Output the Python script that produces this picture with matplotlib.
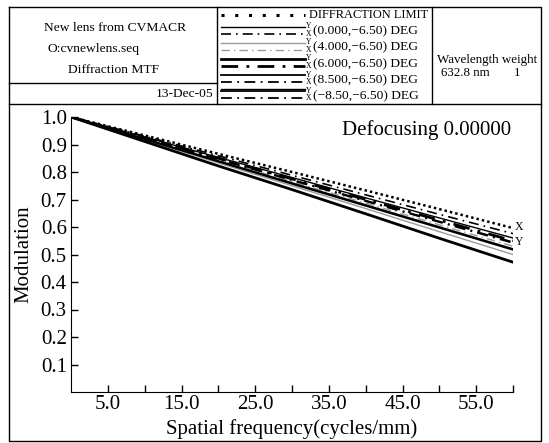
import numpy as np
import matplotlib
matplotlib.use("Agg")
import matplotlib.pyplot as plt

plt.rcParams['font.family'] = ['Liberation Serif', 'DejaVu Serif']

# spatial frequency samples (cycles/mm)
freq = [0, 10, 20, 30, 40, 50, 60]

# modulation
diffraction = [1.0, 0.933, 0.866, 0.800, 0.733, 0.665, 0.596]
f0_x = [1.0, 0.930, 0.859, 0.788, 0.717, 0.646, 0.576]
f0_y = [1.0, 0.927, 0.853, 0.780, 0.706, 0.633, 0.560]
f4_x = [1.0, 0.922, 0.844, 0.765, 0.687, 0.608, 0.530]
f4_y = [1.0, 0.917, 0.833, 0.750, 0.667, 0.583, 0.500]
f6_x = [1.0, 0.925, 0.850, 0.775, 0.700, 0.625, 0.550]
f6_y = [1.0, 0.911, 0.822, 0.736, 0.648, 0.559, 0.472]
f85_x = [1.0, 0.924, 0.848, 0.772, 0.696, 0.620, 0.545]
f85_y = [1.0, 0.920, 0.840, 0.760, 0.680, 0.600, 0.520]
fm85_x = [1.0, 0.923, 0.846, 0.770, 0.694, 0.618, 0.542]
fm85_y = [1.0, 0.919, 0.838, 0.757, 0.677, 0.597, 0.517]

field_labels = ["(0.000,\u22126.50) DEG", "(4.000,\u22126.50) DEG", "(6.000,\u22126.50) DEG",
                "(8.500,\u22126.50) DEG", "(\u22128.50,\u22126.50) DEG"]
x_ticks = [5, 10, 15, 20, 25, 30, 35, 40, 45, 50, 55, 60]
y_ticks = [0.1, 0.2, 0.3, 0.4, 0.5, 0.6, 0.7, 0.8, 0.9, 1.0]

W, H = 549, 443
fig = plt.figure(figsize=(W / 100, H / 100), dpi=100)

# frame / header drawn in pixel coordinates
bg = fig.add_axes([0, 0, 1, 1])
bg.set_xlim(0, W)
bg.set_ylim(H, 0)
bg.axis("off")

L, R, T, B = 9, 541, 7, 441
HB = 104           # bottom of header
C1, C2 = 217, 432  # column dividers
K = dict(color="black", lw=1.0)
bg.plot([L, R, R, L, L], [T, T, B, B, T], **K)
bg.plot([L, R], [HB, HB], **K)
bg.plot([C1, C1], [T, HB], **K)
bg.plot([C2, C2], [T, HB], **K)
bg.plot([L, C1], [83, 83], **K)

hs = 9.7
bg.text(115, 28, "New lens from CVMACR", fontsize=hs, ha="center", va="center")
bg.text(47, 49, "O:cvnewlens.seq", fontsize=hs, ha="left", va="center")
bg.text(114, 70, "Diffraction MTF", fontsize=hs, ha="center", va="center")
bg.text(213, 94, "13-Dec-05", fontsize=hs, ha="right", va="center")
bg.text(487, 60, "Wavelength weight", fontsize=9.4, ha="center", va="center")
bg.text(441, 73, "632.8 nm", fontsize=9.4, ha="left", va="center")
bg.text(514, 73, "1", fontsize=9.4, ha="left", va="center")

# styles for each field: (Y style, X style)
dd = (0, (6, 3, 1, 3))
styles = [
    (dict(color="black", lw=1.0, ls="-"), dict(color="black", lw=1.2, ls=dd)),
    (dict(color="#9a9a9a", lw=1.0, ls="-"), dict(color="#9a9a9a", lw=1.0, ls=dd)),
    (dict(color="black", lw=2.0, ls="-"), dict(color="black", lw=2.0, ls=dd)),
    (dict(color="black", lw=1.3, ls="-"), dict(color="black", lw=1.3, ls=dd)),
    (dict(color="black", lw=1.3, ls="-"), dict(color="black", lw=1.3, ls=dd)),
]
dot_key = dict(color="black", lw=2.2, ls=(0, (1, 3.5)))
dot_curve = dict(color="black", lw=1.8, ls=(0, (1, 1.2)))

x0, x1, xt = 221, 305, 313
bg.plot([x0, x1], [15, 15], **dot_key)
bg.text(xt - 4, 15, "DIFFRACTION LIMIT", fontsize=8.9, ha="left", va="center")
for i, lab in enumerate(field_labels):
    yc = 31.5 + i * 16.2
    bg.plot([x0, x1], [yc - 5, yc - 5], **styles[i][0])
    if i == 4:
        bg.plot([x0, x1], [yc - 7.5, yc - 7.5], color="black", lw=1.0)
    bg.plot([x0, x1], [yc + 2, yc + 2], **styles[i][1])
    bg.text(x1 + 1, yc - 5.5, "Y", fontsize=5.5, ha="left", va="center")
    bg.text(x1 + 1, yc + 2, "X", fontsize=5.5, ha="left", va="center")
    bg.text(xt, yc, lab, fontsize=hs, ha="left", va="center")

# MTF plot
ax = fig.add_axes([71 / W, (H - 392) / H, (513 - 71) / W, (392 - 117) / H])
ax.set_xlim(0, 60)
ax.set_ylim(0, 1.0)
ax.patch.set_alpha(0)
for s in ["top", "right"]:
    ax.spines[s].set_visible(False)

curves = [(f0_y, f0_x), (f4_y, f4_x), (f6_y, f6_x), (f85_y, f85_x), (fm85_y, fm85_x)]
for (cy, cx), (sy, sx) in zip(curves, styles):
    ax.plot(freq, cy, **sy)
    ax.plot(freq, cx, **sx)
ax.plot(freq, diffraction, **dot_curve)

ax.text(60.2, 0.60, "X", fontsize=8.5, ha="left", va="center")
ax.text(60.2, 0.545, "Y", fontsize=8.5, ha="left", va="center")

ax.set_xticks(x_ticks)
ax.set_xticklabels([f"{t:.1f}" if t % 10 == 5 else "" for t in x_ticks])
ax.set_yticks(y_ticks)
ax.set_yticklabels([f"{t:.1f}" for t in y_ticks])
ax.tick_params(direction="in", length=5, labelsize=15, width=1)
ax.tick_params(axis="x", pad=2)
ax.tick_params(axis="y", pad=3)
ax.set_xlabel("Spatial frequency(cycles/mm)", fontsize=15, labelpad=4)
ax.set_ylabel("Modulation", fontsize=15, labelpad=5)
ax.text(59.8, 0.99, "Defocusing 0.00000", fontsize=15, ha="right", va="top")

fig.savefig("out.png", dpi=100)
